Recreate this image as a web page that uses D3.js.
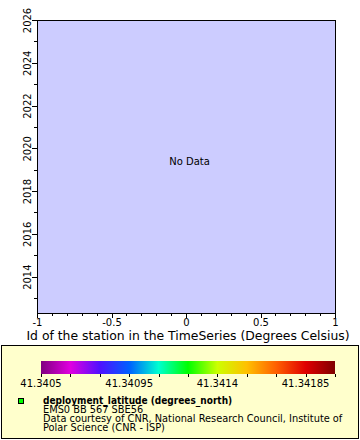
<!DOCTYPE html>
<html>
<head>
<meta charset="utf-8">
<script src="https://cdn.jsdelivr.net/npm/d3@7"></script>
<style>
  html, body { margin: 0; padding: 0; background: #fff; }
  svg { display: block; font-family: "DejaVu Sans", sans-serif; }
</style>
</head>
<body>
<svg id="chart" width="360" height="440"></svg>
<script>
// ---- data ----
const xDomain = [-1, 1];
const xMajorTicks = [-1, -0.5, 0, 0.5, 1];
const xTickLabels = ["-1", "-0.5", "0", "0.5", "1"];
const yDomain = [2012.3, 2026];
const yMajorTicks = [2014, 2016, 2018, 2020, 2022, 2024, 2026];
const yTickLabels = ["2014", "2016", "2018", "2020", "2022", "2024", "2026"];
const xTitle = "Id of the station in the TimeSeries (Degrees Celsius)";
const noDataText = "No Data";
const cbDomain = [41.3405, 41.342];
const cbLabelTicks = [41.3405, 41.34095, 41.3414, 41.34185];
const cbLabels = ["41.3405", "41.34095", "41.3414", "41.34185"];
const cbStep = 0.00015;
const cbColors = ["#800080", "#e000e0", "#5010ff", "#0060ff", "#00ffd0", "#00ff00",
                  "#ccff00", "#ffc000", "#ff6000", "#e00000", "#800000"];
const legendLines = ["deployment_latitude (degrees_north)", "EMS0 BB 567 SBE56",
  "Data courtesy of CNR, National Research Council, Institute of",
  "Polar Science (CNR - ISP)"];

// ---- layout ----
const svg = d3.select("#chart");
const plot = { left: 37, right: 335, top: 20, bottom: 313 };

const x = d3.scaleLinear().domain(xDomain).range([plot.left, plot.right]);
const y = d3.scaleLinear().domain(yDomain).range([plot.bottom, plot.top]);

// plot background
svg.append("rect")
  .attr("x", plot.left).attr("y", plot.top)
  .attr("width", plot.right - plot.left).attr("height", plot.bottom - plot.top)
  .attr("fill", "#ccccff").attr("stroke", "#000").attr("stroke-width", 1)
  .attr("shape-rendering", "crispEdges");

// x axis minor ticks
const xMinor = d3.range(-10, 11).map(i => i / 10);
svg.append("g").attr("transform", `translate(0,${plot.bottom})`)
  .call(d3.axisBottom(x).tickValues(xMinor).tickSize(3).tickFormat(""))
  .call(g => g.select(".domain").remove())
  .call(g => g.selectAll("line").attr("shape-rendering", "crispEdges"));
// x axis major
svg.append("g").attr("transform", `translate(0,${plot.bottom})`)
  .call(d3.axisBottom(x).tickValues(xMajorTicks).tickSize(5).tickPadding(1)
    .tickFormat((d, i) => xTickLabels[i]))
  .call(g => g.select(".domain").remove())
  .call(g => g.selectAll("line").attr("shape-rendering", "crispEdges"))
  .call(g => g.selectAll("text").attr("font-size", 10).attr("fill", "#000")
    .attr("font-family", "DejaVu Sans, sans-serif"));

// y axis minor
const yMinor = d3.range(2013, 2027);
svg.append("g").attr("transform", `translate(${plot.left},0)`)
  .call(d3.axisLeft(y).tickValues(yMinor).tickSize(3).tickFormat(""))
  .call(g => g.select(".domain").remove())
  .call(g => g.selectAll("line").attr("shape-rendering", "crispEdges"));
// y axis major
const yAx = svg.append("g").attr("transform", `translate(${plot.left},0)`)
  .call(d3.axisLeft(y).tickValues(yMajorTicks).tickSize(5).tickFormat((d, i) => yTickLabels[i]))
  .call(g => g.select(".domain").remove())
  .call(g => g.selectAll("line").attr("shape-rendering", "crispEdges"));
yAx.selectAll("text")
  .attr("font-size", 10).attr("fill", "#000").attr("font-family", "DejaVu Sans, sans-serif")
  .attr("x", null).attr("dy", null)
  .attr("text-anchor", "middle")
  .attr("transform", "translate(-6,0) rotate(-90)");

// axis title
svg.append("text")
  .attr("x", (plot.left + plot.right) / 2 + 2).attr("y", 339.5)
  .attr("text-anchor", "middle").attr("font-size", 12.4).attr("fill", "#000")
  .text(xTitle);

// No Data
svg.append("text")
  .attr("x", x(0) + 3.5).attr("y", 165)
  .attr("text-anchor", "middle").attr("font-size", 10).attr("fill", "#000")
  .text(noDataText);

// legend box
svg.append("rect")
  .attr("x", 1.5).attr("y", 345.5).attr("width", 357).attr("height", 93)
  .attr("fill", "#ffffcc").attr("stroke", "#000").attr("stroke-width", 1);

// colorbar
const cb = d3.scaleLinear().domain(cbDomain).range([41, 335]);
const grad = svg.append("defs").append("linearGradient").attr("id", "cbgrad")
  .attr("x1", "0%").attr("x2", "100%").attr("y1", "0%").attr("y2", "0%");
cbColors.forEach((c, i) => grad.append("stop")
  .attr("offset", (i / (cbColors.length - 1) * 100) + "%").attr("stop-color", c));
svg.append("rect")
  .attr("x", cb.range()[0]).attr("y", 361)
  .attr("width", cb.range()[1] - cb.range()[0]).attr("height", 13)
  .attr("fill", "url(#cbgrad)");

const cbTicks = d3.range(0, 11).map(i => cbDomain[0] + i * cbStep);
svg.append("g").attr("transform", "translate(0,374)")
  .call(d3.axisBottom(cb).tickValues(cbTicks).tickSize(3).tickFormat(""))
  .call(g => g.select(".domain").remove())
  .call(g => g.selectAll("line").attr("shape-rendering", "crispEdges"));
svg.append("g").selectAll("text").data(cbLabelTicks).join("text")
  .attr("x", d => cb(d)).attr("y", 387)
  .attr("text-anchor", "middle").attr("font-size", 10).attr("fill", "#000")
  .text((d, i) => cbLabels[i]);

// legend entry
svg.append("rect")
  .attr("x", 18.5).attr("y", 398.5).attr("width", 5).attr("height", 5)
  .attr("fill", "#00ff00").attr("stroke", "#000").attr("stroke-width", 1);
svg.append("g").selectAll("text").data(legendLines).join("text")
  .attr("x", 43).attr("y", (d, i) => 404 + i * 9)
  .attr("font-size", (d, i) => i === 0 ? 10 : 9.8).attr("fill", "#000")
  .attr("font-family", (d, i) => i === 0 ? "DejaVu Sans Condensed, DejaVu Sans, sans-serif" : "DejaVu Sans, sans-serif")
  .attr("font-stretch", (d, i) => i === 0 ? "condensed" : "normal")
  .attr("font-weight", (d, i) => i === 0 ? "bold" : "normal")
  .text(d => d);
</script>
</body>
</html>
